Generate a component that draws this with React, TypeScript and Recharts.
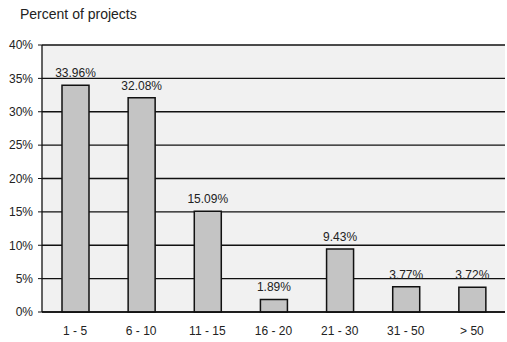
import React from "react";
import { BarChart, Bar, XAxis, YAxis, CartesianGrid, LabelList } from "recharts";

const categories = ["1 - 5", "6 - 10", "11 - 15", "16 - 20", "21 - 30", "31 - 50", "> 50"];
const percents = [33.96, 32.08, 15.09, 1.89, 9.43, 3.77, 3.72];
const yTicks = [0, 5, 10, 15, 20, 25, 30, 35, 40];

const data = categories.map((name, i) => ({ name, value: percents[i] }));

const font = "'Liberation Sans', Arial, sans-serif";

export default function App() {
  return (
    <div style={{ position: "absolute", left: 0, top: 0, width: 507, height: 342, background: "#fff", fontFamily: font }}>
      <div style={{ position: "absolute", left: 20, top: 6, fontSize: 14, color: "#222" }}>Percent of projects</div>
      <BarChart
        width={507}
        height={342}
        data={data}
        margin={{ top: 45, right: 2, bottom: 0, left: 0 }}
      >
        <CartesianGrid
          vertical={false}
          stroke="#111"
          strokeWidth={1.3}
          fill="#f1f1f1"
        />
        <XAxis
          dataKey="name"
          height={30}
          axisLine={{ stroke: "#111", strokeWidth: 1.3 }}
          tickLine={false}
          tick={{ fill: "#222", fontSize: 12, fontFamily: font }}
          tickMargin={8}
        />
        <YAxis
          width={42}
          domain={[0, 40]}
          ticks={yTicks}
          interval={0}
          axisLine={{ stroke: "#111", strokeWidth: 1.3 }}
          tickLine={{ stroke: "#111" }}
          tickSize={4}
          tickMargin={5}
          tickFormatter={(v: number) => `${v}%`}
          tick={{ fill: "#222", fontSize: 12, fontFamily: font }}
        />
        <Bar
          dataKey="value"
          fill="#c4c4c4"
          stroke="#111"
          strokeWidth={1.5}
          barSize={27}
          isAnimationActive={false}
        >
          <LabelList
            dataKey="value"
            position="top"
            offset={8}
            formatter={(v: number) => `${v.toFixed(2)}%`}
            style={{ fill: "#222", fontSize: 12, fontFamily: font }}
          />
        </Bar>
      </BarChart>
    </div>
  );
}
